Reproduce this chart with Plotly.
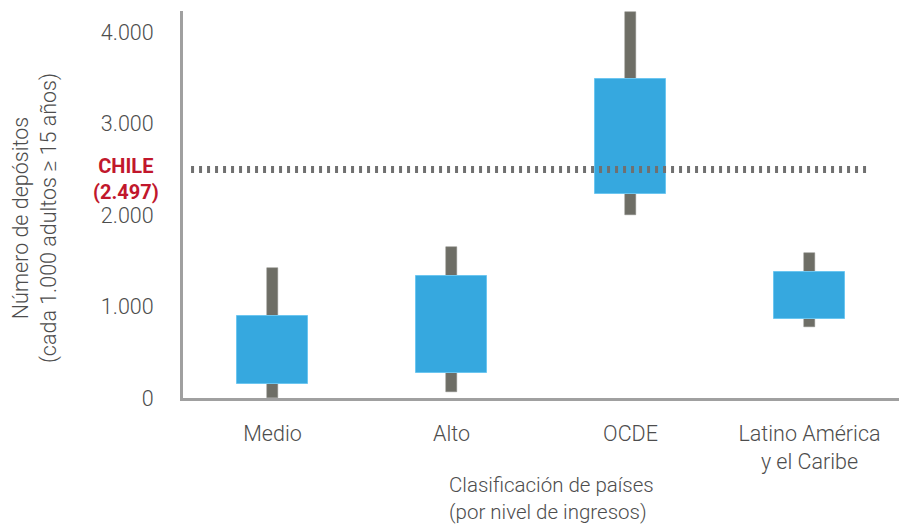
import plotly.graph_objects as go

# Depósitos por cada 1.000 adultos, por grupo de países
categorias = ["Medio", "Alto", "OCDE", "Latino América<br>y el Caribe"]
minimo = [0, 62, 2000, 779]
q1 = [153, 270, 2230, 867]
q3 = [893, 1330, 3490, 1374]
maximo = [1421, 1650, 4215, 1581]
chile_valor = 2497

y_ticks = [0, 1000, 2000, 3000, 4000]
y_tick_labels = ["0", "1.000", "2.000", "3.000", "4.000"]

x_pos = list(range(len(categorias)))

font_family = "Roboto"
gris_texto = "#4d4d4d"

fig = go.Figure()

# Rango total (mínimo a máximo)
fig.add_trace(go.Bar(
    x=x_pos,
    base=minimo,
    y=[hi - lo for hi, lo in zip(maximo, minimo)],
    width=0.066,
    marker=dict(color="#6e6e66", line=dict(color="#8a8a84", width=0.5)),
    hoverinfo="skip",
    showlegend=False,
))

# Rango intercuartil
fig.add_trace(go.Bar(
    x=x_pos,
    base=q1,
    y=[b - a for a, b in zip(q1, q3)],
    width=0.4,
    marker=dict(color="#36a8df", line=dict(color="#6cc6f0", width=1)),
    hoverinfo="skip",
    showlegend=False,
))

# Línea de referencia de Chile
fig.add_shape(
    type="line", xref="x", yref="y",
    x0=-0.455, x1=3.33, y0=chile_valor, y1=chile_valor,
    line=dict(color="#707070", width=7, dash="3px,5px"),
    layer="above",
)

chile_txt = f"{chile_valor:,}".replace(",", ".")
fig.add_annotation(
    xref="paper", yref="y", x=0, y=chile_valor,
    xanchor="right", yanchor="middle", xshift=-22, yshift=-9,
    text=f"<b>CHILE<br>({chile_txt})</b>",
    showarrow=False, align="center",
    font=dict(family=font_family, size=20, color="#c1172c"),
)

# Título del eje Y
fig.add_annotation(
    xref="paper", yref="paper", x=0, y=0.465,
    xanchor="center", yanchor="middle", xshift=-148,
    text="Número de depósitos<br>(cada 1.000 adultos ≥ 15 años)",
    textangle=-90, showarrow=False, align="center",
    font=dict(family=font_family, size=21.5, color=gris_texto, weight=300),
)

# Título del eje X
fig.add_annotation(
    xref="paper", yref="paper", x=0.514, y=-0.26,
    xanchor="center", yanchor="middle",
    text="Clasificación de países<br>(por nivel de ingresos)",
    showarrow=False, align="left",
    font=dict(family=font_family, size=20.5, color=gris_texto, weight=300),
)

fig.update_layout(
    width=900, height=525,
    margin=dict(l=183, r=1, t=11, b=127),
    paper_bgcolor="white", plot_bgcolor="white",
    barmode="overlay",
    bargap=0,
    xaxis=dict(
        range=[-0.5, 3.5],
        tickvals=x_pos, ticktext=categorias,
        showgrid=False, zeroline=False,
        showline=True, linecolor="#a0a0a0", linewidth=3,
        ticks="", ticklabelstandoff=14,
        tickfont=dict(family=font_family, size=21.5, color=gris_texto, weight=300),
    ),
    yaxis=dict(
        range=[0, 4230],
        tickvals=y_ticks, ticktext=y_tick_labels,
        showgrid=False, zeroline=False,
        showline=True, linecolor="#a0a0a0", linewidth=3,
        ticks="", ticklabelstandoff=22,
        tickfont=dict(family=font_family, size=21.5, color=gris_texto, weight=300),
    ),
)

fig.write_html("out.html")
